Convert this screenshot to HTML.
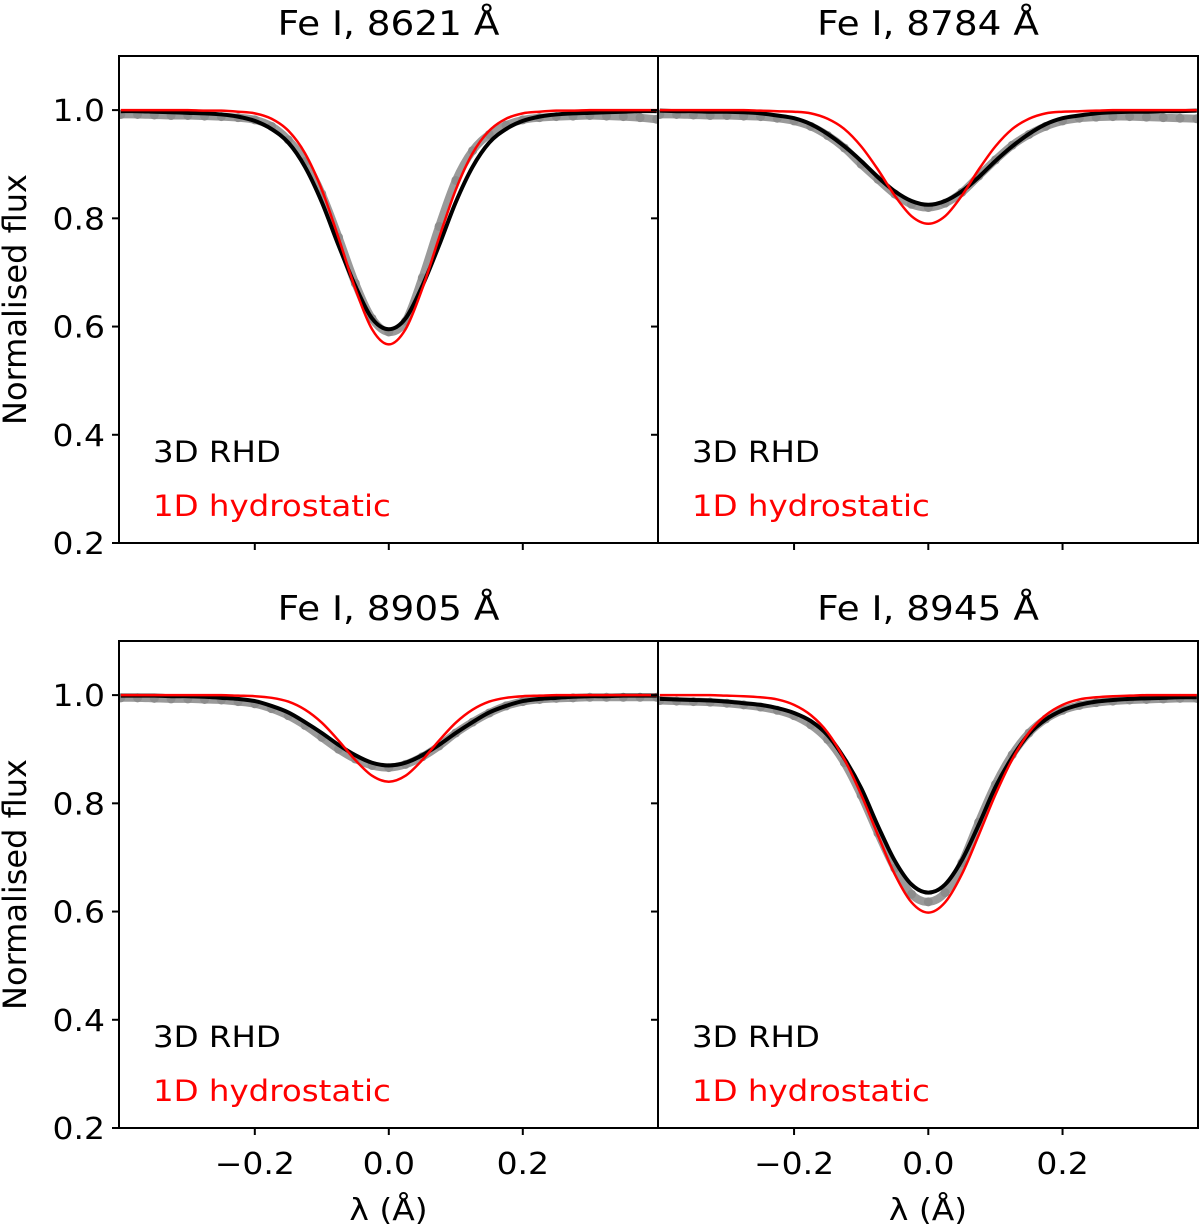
<!DOCTYPE html>
<html><head><meta charset="utf-8"><style>
html,body{margin:0;padding:0;background:#fff;}
svg{display:block;font-family:"DejaVu Sans","Liberation Sans",sans-serif;}
</style></head><body>
<svg id="chart" width="1200" height="1227" viewBox="0 0 1200 1227" xmlns="http://www.w3.org/2000/svg"></svg>
<script>
// ---- data ----
const xs = [-0.4,-0.375,-0.35,-0.325,-0.3,-0.275,-0.25,-0.225,-0.2,-0.175,-0.15,-0.125,-0.1,-0.075,-0.05,-0.025,0,0.025,0.05,0.075,0.1,0.125,0.15,0.175,0.2,0.225,0.25,0.275,0.3,0.325,0.35,0.375,0.4];
const titles = ["Fe I, 8621 Å","Fe I, 8784 Å","Fe I, 8905 Å","Fe I, 8945 Å"];
const yTicks = [0.2,0.4,0.6,0.8,1.0];
const yTickLabels = ["0.2","0.4","0.6","0.8","1.0"];
const xTicks = [-0.2,0.0,0.2];
const xTickLabels = ["\u22120.2","0.0","0.2"];
// Panel 1 (8621)
const obs1 = [.992,.992,.991,.99,.99,.989,.988,.986,.982,.97,.945,.905,.845,.765,.68,.615,.59,.61,.69,.785,.87,.925,.955,.972,.982,.986,.988,.989,.99,.989,.988,.986,.983];
const rhd1 = [.998,.998,.997,.996,.995,.994,.992,.988,.98,.965,.94,.895,.83,.75,.675,.615,.595,.615,.675,.75,.83,.895,.94,.965,.98,.988,.992,.994,.995,.996,.997,.998,.998];
const hyd1 = [1,1,1,1,1,.999,.999,.997,.994,.984,.962,.92,.853,.764,.67,.595,.567,.595,.67,.764,.853,.92,.962,.984,.994,.997,.999,.999,1,1,1,1,1];
// Panel 2 (8784)
const obs2 = [.992,.992,.991,.99,.99,.989,.988,.985,.98,.97,.953,.93,.9,.872,.845,.826,.82,.828,.848,.878,.908,.935,.955,.97,.98,.985,.987,.988,.988,.987,.986,.985,.984];
const rhd2 = [.999,.998,.998,.997,.997,.996,.994,.99,.985,.974,.956,.933,.906,.876,.85,.832,.825,.832,.85,.876,.906,.933,.956,.974,.985,.99,.994,.996,.997,.997,.998,.998,.999];
const hyd2 = [1,1,1,1,1,1,.999,.998,.997,.994,.984,.965,.933,.89,.842,.804,.79,.804,.842,.89,.933,.965,.984,.994,.997,.998,.999,1,1,1,1,1,1];
// Panel 3 (8905)
const obs3 = [.995,.995,.994,.993,.993,.992,.991,.988,.984,.975,.962,.944,.922,.9,.882,.87,.866,.872,.886,.906,.93,.95,.967,.98,.988,.992,.994,.995,.996,.996,.996,.996,.996];
const rhd3 = [.999,.999,.999,.998,.998,.997,.995,.993,.989,.98,.968,.95,.93,.908,.889,.875,.87,.875,.889,.908,.93,.95,.968,.98,.989,.993,.995,.997,.998,.998,.999,.999,.999];
const hyd3 = [1,1,1,1,1,1,1,.999,.998,.995,.988,.973,.949,.916,.88,.851,.84,.851,.88,.916,.949,.973,.988,.995,.998,.999,1,1,1,1,1,1,1];
// Panel 4 (8945)
const obs4 = [.99,.989,.988,.987,.985,.982,.978,.972,.962,.945,.918,.875,.815,.745,.68,.632,.618,.635,.69,.765,.835,.89,.93,.956,.972,.981,.986,.989,.991,.992,.993,.994,.994];
const rhd4 = [.993,.992,.991,.99,.988,.985,.982,.976,.967,.952,.926,.883,.828,.758,.694,.65,.635,.65,.695,.76,.83,.885,.928,.955,.972,.982,.988,.991,.993,.994,.995,.996,.996];
const hyd4 = [1,1,1,1,.999,.998,.996,.992,.982,.963,.931,.881,.816,.741,.669,.617,.598,.617,.669,.741,.816,.881,.931,.963,.982,.992,.996,.998,.999,1,1,1,1];
const obsAll=[obs1,obs2,obs3,obs4], rhdAll=[rhd1,rhd2,rhd3,rhd4], hydAll=[hyd1,hyd2,hyd3,hyd4];

const NS="http://www.w3.org/2000/svg";
const svg=document.getElementById('chart');
function mk(tag,attrs,parent){const e=document.createElementNS(NS,tag);for(const k in attrs)e.setAttribute(k,attrs[k]);(parent||svg).appendChild(e);return e;}
function txt(parent,x,y,size,anchor,fill,str,sx){
  const t=mk('text',{x:0,y:0,'text-anchor':anchor,'font-size':size,fill:fill,transform:'translate('+x+','+y+') scale('+(sx||1.1)+',1)'},parent);
  t.textContent=str;return t;
}
function smooth(pts){
  let d='M'+pts[0][0]+','+pts[0][1];
  for(let i=0;i<pts.length-1;i++){
    const p0=pts[Math.max(0,i-1)],p1=pts[i],p2=pts[i+1],p3=pts[Math.min(pts.length-1,i+2)];
    const c1=[p1[0]+(p2[0]-p0[0])/6,p1[1]+(p2[1]-p0[1])/6];
    const c2=[p2[0]-(p3[0]-p1[0])/6,p2[1]-(p3[1]-p1[1])/6];
    d+=' C'+c1[0]+','+c1[1]+' '+c2[0]+','+c2[1]+' '+p2[0]+','+p2[1];
  }
  return d;
}
const panels=[{x0:119,x1:658,y0:56,y1:543},{x0:658,x1:1198,y0:56,y1:543},{x0:119,x1:658,y0:641,y1:1128},{x0:658,x1:1198,y0:641,y1:1128}];
const XMIN=-0.4027,XMAX=0.4018,YMIN=0.2,YMAX=1.1;

panels.forEach((p,i)=>{
  const g=mk('g',{});
  
  
  const sx=v=>p.x0+(v-XMIN)/(XMAX-XMIN)*(p.x1-p.x0);
  const sy=v=>p.y1-(v-YMIN)/(YMAX-YMIN)*(p.y1-p.y0);
  const cid='clip'+i;
  const cp=mk('clipPath',{id:cid},g);mk('rect',{x:p.x0,y:p.y0,width:p.x1-p.x0,height:p.y1-p.y0},cp);
  const plot=mk('g',{'clip-path':'url(#'+cid+')'},g);
  const obs=obsAll[i];
  const band=mk('path',{d:smooth(xs.map((x,j)=>[sx(x),sy(obs[j])])),fill:'none',stroke:'#9a9a9a','stroke-width':8,'stroke-linejoin':'round','stroke-linecap':'round'},plot);
  
  
  xs.forEach((x,j)=>{
    const c=mk('circle',{cx:sx(x),cy:sy(obs[j]),r:4.5,fill:'#8c8c8c'},plot);
    
    
  });
  const l1=mk('path',{d:smooth(xs.map((x,j)=>[sx(x),sy(rhdAll[i][j])])),fill:'none',stroke:'#000','stroke-width':4,'stroke-linejoin':'round'},plot);
  
  
  const l2=mk('path',{d:smooth(xs.map((x,j)=>[sx(x),sy(hydAll[i][j])])),fill:'none',stroke:'#ff0000','stroke-width':2.5,'stroke-linejoin':'round'},plot);
  
  
  const fr=mk('rect',{x:p.x0,y:p.y0,width:p.x1-p.x0,height:p.y1-p.y0,fill:'none',stroke:'#000','stroke-width':2},g);
  
  
  yTicks.forEach((t,k)=>{
    mk('line',{x1:p.x0-7,x2:p.x0,y1:sy(t),y2:sy(t),stroke:'#000','stroke-width':2},g);
    if(i%2===0){
      const tx=txt(g,p.x0-14,sy(t)+11,30,'end','#000',yTickLabels[k]);
      
      
    }
  });
  xTicks.forEach((t,k)=>{
    mk('line',{x1:sx(t),x2:sx(t),y1:p.y1,y2:p.y1+7,stroke:'#000','stroke-width':2},g);
    if(i>=2){
      const tx=txt(g,sx(t),p.y1+46,30,'middle','#000',xTickLabels[k]);
      
      
    }
  });
  const tt=txt(g,(p.x0+p.x1)/2,p.y0-21,34,'middle','#000',titles[i]);
  
  
  const la=txt(g,p.x0+34,p.y0+406,29.5,'start','#000','3D RHD');
  
  
  const lb=txt(g,p.x0+34,p.y0+460,29.5,'start','#ff0000','1D hydrostatic');
  
  
  if(i%2===0){
    const yl=mk('text',{x:0,y:0,'text-anchor':'middle','font-size':32,fill:'#000',transform:'translate(26,'+((p.y0+p.y1)/2)+') rotate(-90)'},g);
    yl.textContent='Normalised flux';
    
    
  }
  if(i>=2){
    const xl=txt(g,(p.x0+p.x1)/2,1220,30,'middle','#000','λ (Å)');
    
    
  }
});
</script>
</body></html>
